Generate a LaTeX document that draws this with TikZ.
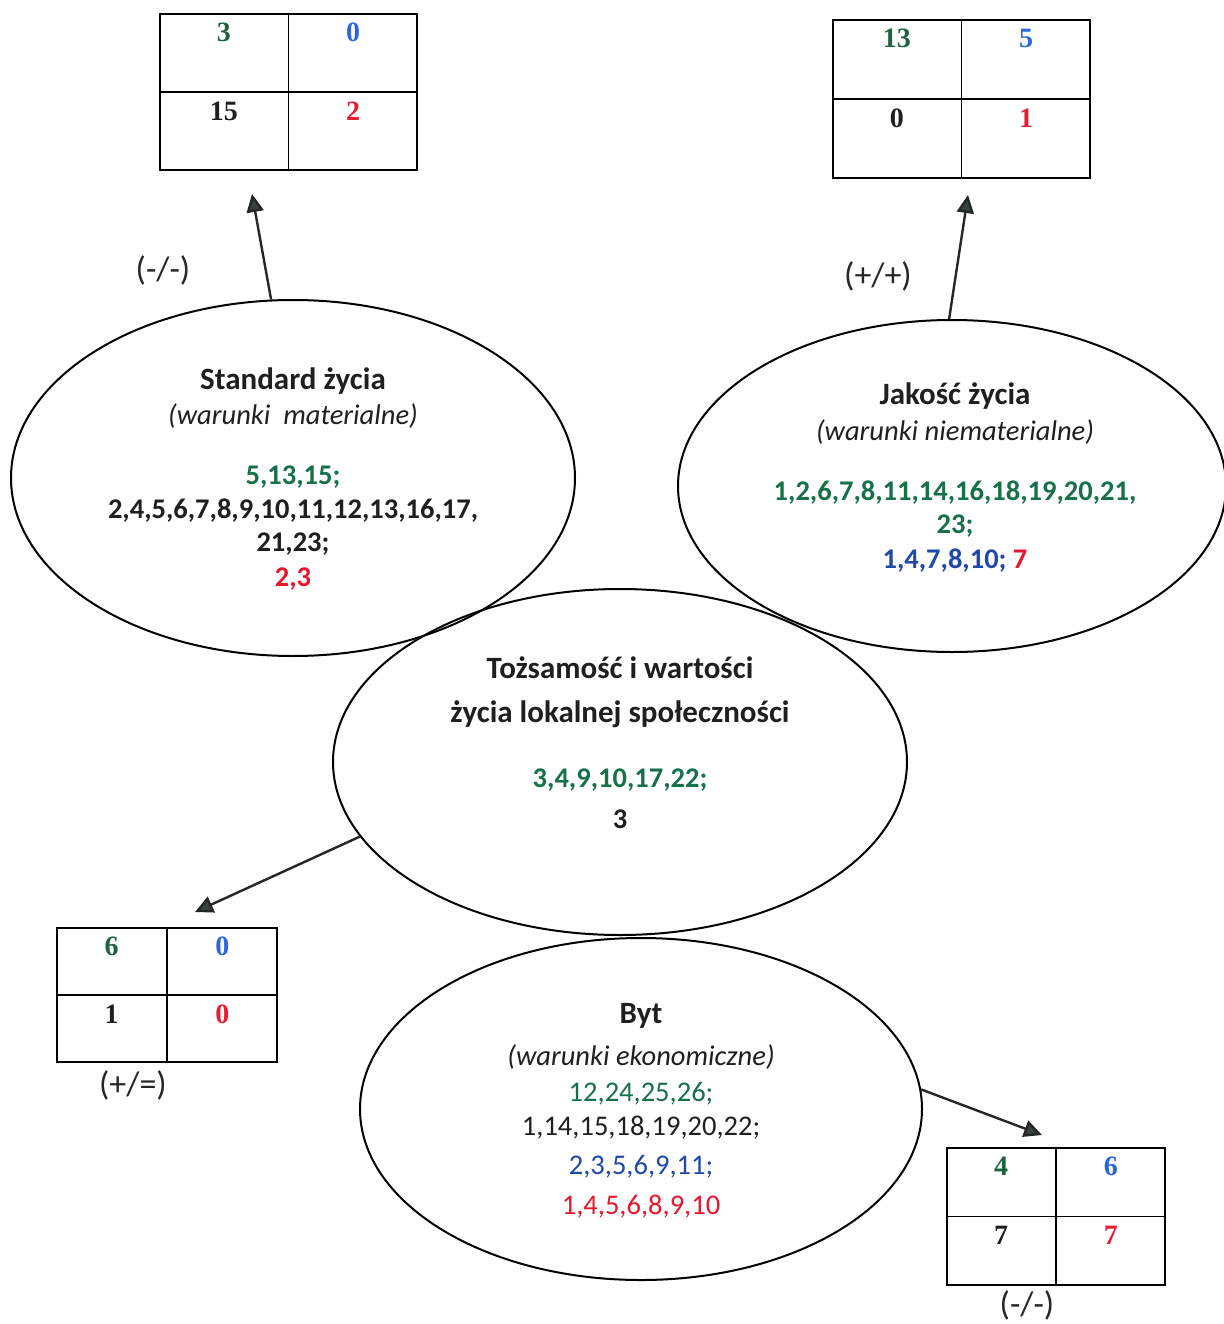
\documentclass[tikz,border=0pt]{standalone}
\usepackage{fontspec}
\setmainfont{Carlito}
\newfontfamily\tabfont{Liberation Serif}
\usetikzlibrary{shapes.geometric,arrows.meta,calc}

\definecolor{tgreen}{RGB}{22,112,72}
\definecolor{tblue}{RGB}{30,72,170}
\definecolor{tred}{RGB}{232,22,44}
\definecolor{cgreen}{RGB}{30,98,62}
\definecolor{cblue}{RGB}{40,104,220}
\definecolor{cred}{RGB}{236,28,48}
\definecolor{arrowgray}{RGB}{55,66,66}

\begin{document}
\begin{tikzpicture}[x=1pt,y=-1pt,
  ring/.style={draw, line width=2pt, ellipse, inner sep=0pt},
  body/.style={align=center, text=black!88, font=\fontsize{28.5}{34}\selectfont},
  tab/.style={draw, line width=1.8pt, inner sep=0pt},
  num/.style={font=\tabfont\bfseries\fontsize{28}{28}\selectfont, inner sep=0pt, text=black!88},
  tag/.style={font=\fontsize{34}{34}\selectfont, text=black!85},
  arr/.style={line width=2.4pt, draw=black!85, -{Triangle[length=18pt,width=17pt,fill=arrowgray]}}
]
\useasboundingbox (0,0) rectangle (1223,1324);

% The four ellipses
\node[ring, minimum width=564, minimum height=356] (std) at (293,478) {};
\node[ring, minimum width=548, minimum height=332] (jak) at (952,486) {};
\node[ring, minimum width=574, minimum height=346] (toz) at (620,762) {};
\node[ring, minimum width=562, minimum height=342] (byt) at (641,1109) {};

% Texts inside the ellipses
\node[body] (stdtxt) at (293,479) {%
  {\fontsize{31}{34}\selectfont\bfseries Standard życia}\\[1pt]
  {\itshape (warunki\ \ materialne)}\\[26pt]
  {\bfseries\color{tgreen}5,13,15;}\\
  {\bfseries 2,4,5,6,7,8,9,10,11,12,13,16,17,}\\[-1pt]
  {\bfseries 21,23;}\\[1pt]
  {\bfseries\color{tred}2,3}};
\node[body] (jaktxt) at (955,478) {%
  {\fontsize{31}{34}\selectfont\bfseries Jakość życia}\\[2pt]
  {\itshape (warunki niematerialne)}\\[26pt]
  {\bfseries\color{tgreen}1,2,6,7,8,11,14,16,18,19,20,21,}\\[-1pt]
  {\bfseries\color{tgreen}23;}\\[1pt]
  {\bfseries\color{tblue}1,4,7,8,10; \color{tred}7}};
\node[body] (toztxt) at (620,743) {%
  {\fontsize{31}{34}\selectfont\bfseries Tożsamość i wartości}\\[10pt]
  {\fontsize{31}{34}\selectfont\bfseries życia lokalnej społeczności}\\[31pt]
  {\bfseries\color{tgreen}3,4,9,10,17,22;}\\[7pt]
  {\bfseries 3}};
\node[body] (byttxt) at (641,1111) {%
  {\fontsize{31}{34}\selectfont\bfseries Byt}\\[8pt]
  {\itshape (warunki ekonomiczne)}\\[2pt]
  {\color{tgreen}12,24,25,26;}\\
  {1,14,15,18,19,20,22;}\\[5pt]
  {\color{tblue}2,3,5,6,9,11;}\\[6pt]
  {\color{tred}1,4,5,6,8,9,10}};

% Tables: name / centre / size / four numbers
\foreach \nm/\cx/\cy/\w/\h/\a/\b/\c/\d in {
    t1/288.5/92/257/156/3/0/15/2,
    t2/961.5/99/257/158/13/5/0/1,
    t3/167/995/220/134/6/0/1/0,
    t4/1056/1216.5/218/137/4/6/7/7} {
  \node[tab, minimum width=\w, minimum height=\h] (\nm) at (\cx,\cy) {};
  \draw[line width=1.8pt] (\nm.north) -- (\nm.south);
  \draw[line width=1.8pt] (\nm.west) -- (\nm.east);
  \node[num, text=cgreen] (\nm-a) at ($(\nm.north west)!0.25!(\nm.north east)+(0,19)$) {\a};
  \node[num, text=cblue] (\nm-b) at ($(\nm.north west)!0.75!(\nm.north east)+(0,19)$) {\b};
  \node[num] (\nm-c) at ($(\nm.west)!0.25!(\nm.east)+(0,19)$) {\c};
  \node[num, text=cred] (\nm-d) at ($(\nm.west)!0.75!(\nm.east)+(0,19)$) {\d};
}

% Labels next to the tables
\node[tag] (tag1) at (163,270) {(-/-)};
\node[tag] (tag2) at (878,276) {(+/+)};
\node[tag] (tag3) at (133,1085) {(+/=)};
\node[tag] (tag4) at (1027,1305) {(-/-)};

% Arrows from the ellipses to the tables
\coordinate (tip1) at (252,194);
\coordinate (tip2) at (968,195);
\coordinate (tip3) at (195,912);
\coordinate (tip4) at (1042,1135);
\draw[arr] (std.97) -- (tip1);
\draw[arr] (jak.91) -- (tip2);
\draw[arr] (toz.196) -- (tip3);
\draw[arr] (byt.4) -- (tip4);

\end{tikzpicture}
\end{document}
